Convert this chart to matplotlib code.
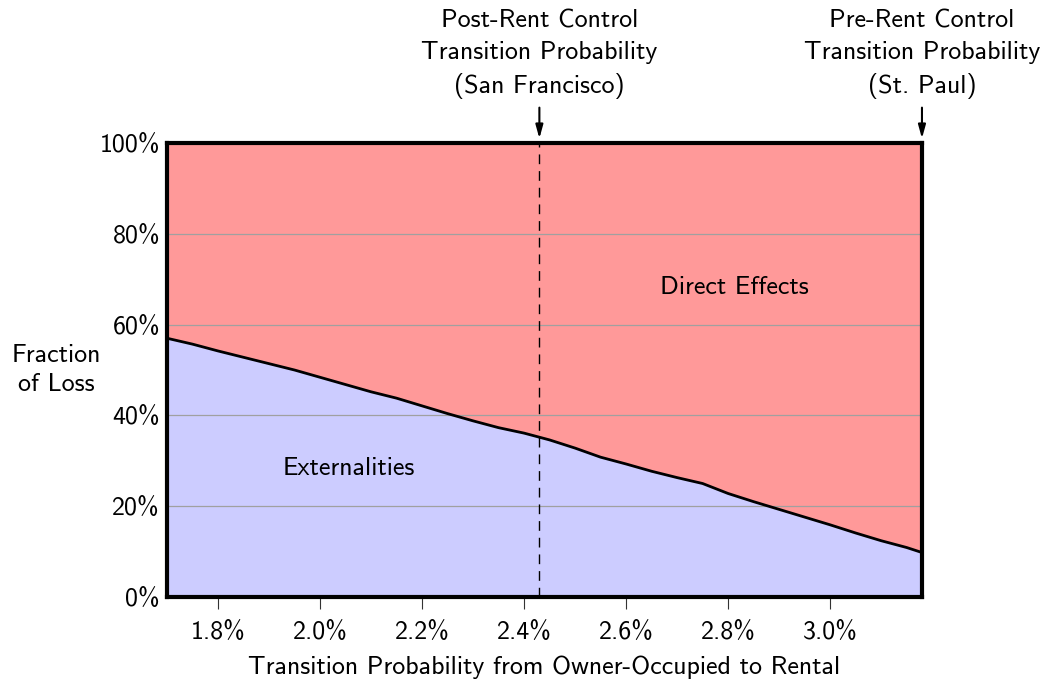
import matplotlib
matplotlib.use("Agg")
import matplotlib.pyplot as plt
import matplotlib.transforms as mtransforms
import numpy as np

plt.rcParams['font.family'] = ['cmss10', 'DejaVu Sans']
plt.rcParams['axes.unicode_minus'] = False

# Data
trans_prob = [1.70, 1.75, 1.80, 1.85, 1.90, 1.95, 2.00, 2.05, 2.10, 2.15, 2.20,
              2.25, 2.30, 2.35, 2.40, 2.45, 2.50, 2.55, 2.60, 2.65, 2.70, 2.75,
              2.80, 2.85, 2.90, 2.95, 3.00, 3.05, 3.10, 3.15, 3.18]
externality_share = [57.0, 55.7, 54.2, 52.8, 51.4, 50.0, 48.4, 46.8, 45.2, 43.8, 42.1,
                     40.4, 38.8, 37.3, 36.1, 34.6, 32.8, 30.8, 29.3, 27.7, 26.3, 25.0,
                     22.8, 21.0, 19.3, 17.6, 15.9, 14.1, 12.4, 10.9, 9.8]
x_ticks = [1.8, 2.0, 2.2, 2.4, 2.6, 2.8, 3.0]
x_tick_labels = ["1.8%", "2.0%", "2.2%", "2.4%", "2.6%", "2.8%", "3.0%"]
y_ticks = [0, 20, 40, 60, 80, 100]
y_tick_labels = ["0%", "20%", "40%", "60%", "80%", "100%"]
sf_prob = 2.43
stp_prob = 3.18

FS = 18.7
fig = plt.figure(figsize=(10.49, 6.87), dpi=100)
ax = fig.add_axes([0.1592, 0.131, 0.7197, 0.6608])

x = np.array(trans_prob)
y = np.array(externality_share)
ax.fill_between(x, 0, y, color='#ccccff', linewidth=0, zorder=1)
ax.fill_between(x, y, 100, color='#ff9999', linewidth=0, zorder=1)
for g in [20, 40, 60, 80]:
    ax.axhline(g, color='#a0a0a0', linewidth=0.9, zorder=2)
ax.plot(x, y, color='black', linewidth=2.0, zorder=4)
ax.axvline(sf_prob, color='black', linewidth=1.0, linestyle=(0, (7, 5)), zorder=3)

ax.set_xlim(1.70, 3.18)
ax.set_ylim(0, 100)
ax.set_xticks(x_ticks)
ax.set_xticklabels(x_tick_labels, fontsize=FS)
ax.set_yticks(y_ticks)
ax.set_yticklabels(y_tick_labels, fontsize=FS)
ax.tick_params(axis='x', direction='out', length=8.5, width=0.8, color='#333333', pad=9)
ax.tick_params(axis='y', length=0, pad=5)
for s in ax.spines.values():
    s.set_linewidth(3.0)
    s.set_zorder(5)

ax.set_xlabel("Transition Probability from Owner-Occupied to Rental", fontsize=FS, labelpad=8)
ax.text(-0.147, 0.50, "Fraction\nof Loss", transform=ax.transAxes, fontsize=FS,
        ha='center', va='center', linespacing=1.35)

ax.text(2.057, 28.4, "Externalities", fontsize=FS, ha='center', va='center', zorder=6)
ax.text(2.813, 68.1, "Direct Effects", fontsize=FS, ha='center', va='center', zorder=6)

trans = mtransforms.blended_transform_factory(ax.transData, fig.transFigure)
for xp, txt in [(sf_prob, "Post-Rent Control\nTransition Probability\n(San Francisco)"),
                (stp_prob, "Pre-Rent Control\nTransition Probability\n(St. Paul)")]:
    ax.text(xp, 1 - 54 / 687, txt, transform=trans, fontsize=FS, ha='center',
            va='center', linespacing=1.45)
    ax.annotate("", xy=(xp, 101.0), xytext=(xp, 107.8),
                arrowprops=dict(arrowstyle='-|>,head_length=0.8,head_width=0.22',
                                color='black', lw=1.5, shrinkA=0, shrinkB=0),
                annotation_clip=False)

fig.savefig("out.png", dpi=100)
